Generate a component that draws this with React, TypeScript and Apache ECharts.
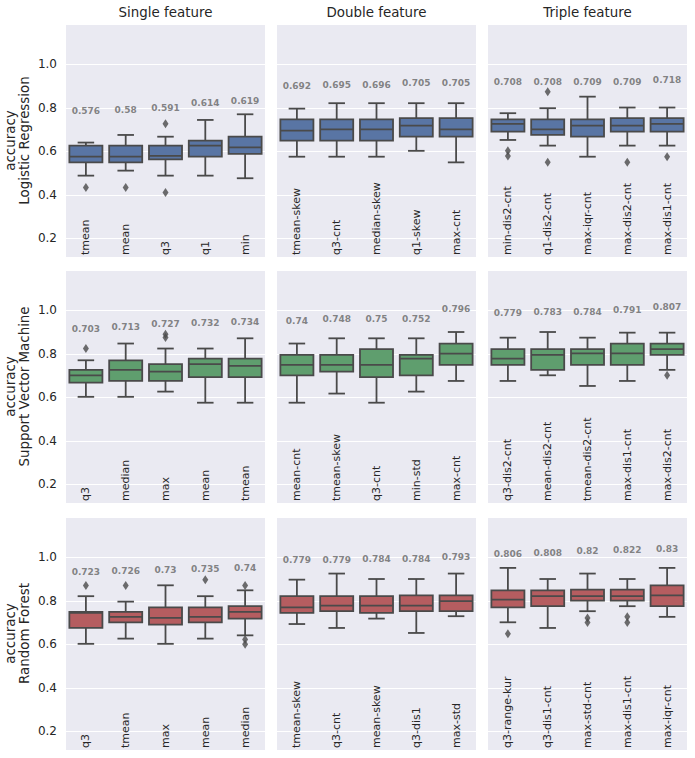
import React, { useEffect, useRef } from 'react';
import * as echarts from 'echarts';

const MODELS = ['Logistic Regression', 'Support Vector Machine', 'Random Forest'];
const GROUPS = ['Single feature', 'Double feature', 'Triple feature'];
const ROW_COLORS = ['#5975a4', '#5f9e6e', '#b55d60'];
const Y_MIN = 0.114;
const Y_MAX = 1.185;

// ---- categories ----
const lrSingleCats = ['tmean', 'mean', 'q3', 'q1', 'min'];
const lrDoubleCats = ['tmean-skew', 'q3-cnt', 'median-skew', 'q1-skew', 'max-cnt'];
const lrTripleCats = ['min-dis2-cnt', 'q1-dis2-cnt', 'max-iqr-cnt', 'max-dis2-cnt', 'max-dis1-cnt'];
const svmSingleCats = ['q3', 'median', 'max', 'mean', 'tmean'];
const svmDoubleCats = ['mean-cnt', 'tmean-skew', 'q3-cnt', 'min-std', 'max-cnt'];
const svmTripleCats = ['q3-dis2-cnt', 'mean-dis2-cnt', 'tmean-dis2-cnt', 'max-dis1-cnt', 'max-dis2-cnt'];
const rfSingleCats = ['q3', 'tmean', 'max', 'mean', 'median'];
const rfDoubleCats = ['tmean-skew', 'q3-cnt', 'mean-skew', 'q3-dis1', 'max-std'];
const rfTripleCats = ['q3-range-kur', 'q3-dis1-cnt', 'max-std-cnt', 'max-dis1-cnt', 'max-iqr-cnt'];

// ---- box stats: [lower whisker, Q1, median, Q3, upper whisker] ----
const lrSingleBox = [
  [0.488, 0.549, 0.575, 0.626, 0.640],
  [0.511, 0.549, 0.575, 0.626, 0.675],
  [0.488, 0.563, 0.579, 0.626, 0.667],
  [0.488, 0.575, 0.626, 0.649, 0.744],
  [0.476, 0.588, 0.618, 0.667, 0.770],
];
const lrDoubleBox = [
  [0.575, 0.649, 0.695, 0.747, 0.796],
  [0.575, 0.649, 0.701, 0.747, 0.821],
  [0.575, 0.649, 0.701, 0.747, 0.821],
  [0.602, 0.667, 0.718, 0.752, 0.821],
  [0.549, 0.667, 0.701, 0.752, 0.821],
];
const lrTripleBox = [
  [0.652, 0.690, 0.726, 0.747, 0.775],
  [0.626, 0.675, 0.701, 0.747, 0.798],
  [0.575, 0.667, 0.718, 0.747, 0.851],
  [0.626, 0.690, 0.718, 0.752, 0.801],
  [0.626, 0.690, 0.726, 0.752, 0.801],
];
const svmSingleBox = [
  [0.602, 0.667, 0.701, 0.726, 0.770],
  [0.602, 0.675, 0.726, 0.770, 0.847],
  [0.626, 0.675, 0.718, 0.752, 0.824],
  [0.575, 0.693, 0.752, 0.778, 0.824],
  [0.575, 0.693, 0.744, 0.778, 0.871],
];
const svmDoubleBox = [
  [0.575, 0.701, 0.749, 0.795, 0.847],
  [0.617, 0.718, 0.749, 0.795, 0.871],
  [0.575, 0.693, 0.749, 0.821, 0.871],
  [0.626, 0.701, 0.778, 0.795, 0.871],
  [0.675, 0.749, 0.801, 0.847, 0.900],
];
const svmTripleBox = [
  [0.675, 0.749, 0.778, 0.821, 0.874],
  [0.701, 0.726, 0.795, 0.821, 0.900],
  [0.652, 0.749, 0.802, 0.821, 0.874],
  [0.675, 0.749, 0.802, 0.847, 0.897],
  [0.726, 0.795, 0.821, 0.847, 0.897],
];
const rfSingleBox = [
  [0.602, 0.675, 0.744, 0.749, 0.821],
  [0.626, 0.701, 0.726, 0.749, 0.796],
  [0.602, 0.690, 0.721, 0.770, 0.871],
  [0.626, 0.701, 0.726, 0.770, 0.821],
  [0.641, 0.718, 0.749, 0.775, 0.848],
];
const rfDoubleBox = [
  [0.693, 0.744, 0.770, 0.821, 0.897],
  [0.675, 0.752, 0.778, 0.821, 0.925],
  [0.718, 0.744, 0.778, 0.821, 0.900],
  [0.652, 0.752, 0.778, 0.825, 0.900],
  [0.729, 0.752, 0.798, 0.825, 0.925],
];
const rfTripleBox = [
  [0.701, 0.770, 0.805, 0.848, 0.951],
  [0.675, 0.775, 0.821, 0.848, 0.900],
  [0.752, 0.801, 0.821, 0.851, 0.925],
  [0.775, 0.801, 0.821, 0.851, 0.900],
  [0.726, 0.775, 0.825, 0.871, 0.951],
];

// ---- outliers: [category index, accuracy] ----
const lrSingleOut = [[0, 0.434], [1, 0.434], [2, 0.726], [2, 0.410]];
const lrDoubleOut: number[][] = [];
const lrTripleOut = [[0, 0.602], [0, 0.578], [1, 0.874], [1, 0.549], [3, 0.549], [4, 0.575]];
const svmSingleOut = [[0, 0.824], [2, 0.890], [2, 0.875]];
const svmDoubleOut: number[][] = [];
const svmTripleOut = [[4, 0.701]];
const rfSingleOut = [[0, 0.870], [1, 0.870], [3, 0.897], [4, 0.870], [4, 0.622], [4, 0.600]];
const rfDoubleOut: number[][] = [];
const rfTripleOut = [[0, 0.648], [2, 0.721], [2, 0.700], [3, 0.726], [3, 0.700]];

// ---- mean accuracy labels ----
const lrSingleMean = [0.576, 0.58, 0.591, 0.614, 0.619];
const lrDoubleMean = [0.692, 0.695, 0.696, 0.705, 0.705];
const lrTripleMean = [0.708, 0.708, 0.709, 0.709, 0.718];
const svmSingleMean = [0.703, 0.713, 0.727, 0.732, 0.734];
const svmDoubleMean = [0.74, 0.748, 0.75, 0.752, 0.796];
const svmTripleMean = [0.779, 0.783, 0.784, 0.791, 0.807];
const rfSingleMean = [0.723, 0.726, 0.73, 0.735, 0.74];
const rfDoubleMean = [0.779, 0.779, 0.784, 0.784, 0.793];
const rfTripleMean = [0.806, 0.808, 0.82, 0.822, 0.83];

const PANELS = [
  { cats: lrSingleCats, box: lrSingleBox, out: lrSingleOut, mean: lrSingleMean },
  { cats: lrDoubleCats, box: lrDoubleBox, out: lrDoubleOut, mean: lrDoubleMean },
  { cats: lrTripleCats, box: lrTripleBox, out: lrTripleOut, mean: lrTripleMean },
  { cats: svmSingleCats, box: svmSingleBox, out: svmSingleOut, mean: svmSingleMean },
  { cats: svmDoubleCats, box: svmDoubleBox, out: svmDoubleOut, mean: svmDoubleMean },
  { cats: svmTripleCats, box: svmTripleBox, out: svmTripleOut, mean: svmTripleMean },
  { cats: rfSingleCats, box: rfSingleBox, out: rfSingleOut, mean: rfSingleMean },
  { cats: rfDoubleCats, box: rfDoubleBox, out: rfDoubleOut, mean: rfDoubleMean },
  { cats: rfTripleCats, box: rfTripleBox, out: rfTripleOut, mean: rfTripleMean },
];

const FONT = 'DejaVu Sans';
const LINE = '#4a4a4a';
const TEXT = '#262626';
const COL_LEFT = [66, 277, 488];
const COL_W = 199;
const ROW_TOP = [24, 270, 517];
const ROW_H = 233;
const MEAN_LABEL_OFFSET = 0.21;

function makeRenderBox(color: string) {
  return (params: any, api: any) => {
    const i = api.value(0);
    const lo = api.coord([i, api.value(1)]);
    const q1 = api.coord([i, api.value(2)]);
    const md = api.coord([i, api.value(3)]);
    const q3 = api.coord([i, api.value(4)]);
    const hi = api.coord([i, api.value(5)]);
    const band = api.size([1, 0])[0];
    const bw = band * 0.83;
    const cw = bw * 0.5;
    const x = lo[0];
    const st = { stroke: LINE, lineWidth: 1.8, fill: null };
    return {
      type: 'group',
      children: [
        { type: 'line', shape: { x1: x, y1: q1[1], x2: x, y2: lo[1] }, style: st },
        { type: 'line', shape: { x1: x, y1: q3[1], x2: x, y2: hi[1] }, style: st },
        { type: 'line', shape: { x1: x - cw / 2, y1: lo[1], x2: x + cw / 2, y2: lo[1] }, style: st },
        { type: 'line', shape: { x1: x - cw / 2, y1: hi[1], x2: x + cw / 2, y2: hi[1] }, style: st },
        {
          type: 'rect',
          shape: { x: x - bw / 2, y: q3[1], width: bw, height: q1[1] - q3[1] },
          style: { fill: color, stroke: LINE, lineWidth: 1.8 },
        },
        { type: 'line', shape: { x1: x - bw / 2, y1: md[1], x2: x + bw / 2, y2: md[1] }, style: st },
      ],
    };
  };
}

function buildOption() {
  const grid: any[] = [];
  const xAxis: any[] = [];
  const yAxis: any[] = [];
  const series: any[] = [];
  PANELS.forEach((p, idx) => {
    const r = Math.floor(idx / 3);
    const c = idx % 3;
    grid.push({
      left: COL_LEFT[c],
      top: ROW_TOP[r],
      width: COL_W,
      height: ROW_H,
      show: true,
      backgroundColor: '#EAEAF2',
      borderWidth: 0,
    });
    xAxis.push({
      type: 'category',
      gridIndex: idx,
      data: p.cats,
      axisLine: { show: false },
      axisTick: { show: false },
      splitLine: { show: false },
      axisLabel: {
        inside: true,
        rotate: 90,
        interval: 0,
        margin: 2,
        fontSize: 11,
        fontFamily: FONT,
        color: TEXT,
      },
      z: 5,
    });
    yAxis.push({
      type: 'value',
      gridIndex: idx,
      min: Y_MIN,
      max: Y_MAX,
      splitNumber: 5,
      axisLine: { show: false },
      axisTick: { show: false },
      splitLine: { show: true, lineStyle: { color: '#ffffff', width: 1.2 } },
      axisLabel: {
        show: c === 0,
        fontSize: 12,
        fontFamily: FONT,
        color: TEXT,
        margin: 9,
        formatter: (v: number) =>
          Math.abs(v * 5 - Math.round(v * 5)) > 1e-6 ? '' : v.toFixed(1),
      },
    });
    series.push({
      type: 'custom',
      xAxisIndex: idx,
      yAxisIndex: idx,
      renderItem: makeRenderBox(ROW_COLORS[r]),
      encode: { x: 0, y: [1, 2, 3, 4, 5] },
      data: p.box.map((b, i) => [i, ...b]),
      z: 3,
    });
    series.push({
      type: 'scatter',
      xAxisIndex: idx,
      yAxisIndex: idx,
      symbol: 'diamond',
      symbolSize: [6, 9],
      itemStyle: { color: LINE },
      data: p.out,
      z: 4,
    });
    series.push({
      type: 'scatter',
      xAxisIndex: idx,
      yAxisIndex: idx,
      symbolSize: 0,
      data: p.mean.map((m, i) => [i, m + MEAN_LABEL_OFFSET, m]),
      label: {
        show: true,
        position: 'inside',
        formatter: (prm: any) => String(prm.value[2]),
        fontSize: 9,
        fontWeight: 'bold',
        fontFamily: FONT,
        color: '#666666',
      },
      z: 4,
    });
  });

  const graphic: any[] = [];
  GROUPS.forEach((g, c) => {
    graphic.push({
      type: 'text',
      x: COL_LEFT[c] + COL_W / 2,
      y: 12,
      style: {
        text: g,
        align: 'center',
        verticalAlign: 'middle',
        fontSize: 13.4,
        fontFamily: FONT,
        fill: TEXT,
      },
    });
  });
  MODELS.forEach((m, r) => {
    graphic.push({
      type: 'text',
      x: 17.5,
      y: ROW_TOP[r] + ROW_H / 2,
      rotation: Math.PI / 2,
      style: {
        text: 'accuracy\n' + m,
        align: 'center',
        verticalAlign: 'middle',
        lineHeight: 14,
        fontSize: 13.4,
        fontFamily: FONT,
        fill: TEXT,
      },
    });
  });

  return {
    animation: false,
    backgroundColor: '#ffffff',
    grid,
    xAxis,
    yAxis,
    series,
    graphic,
  };
}

export default function App() {
  const ref = useRef<HTMLDivElement>(null);
  useEffect(() => {
    document.body.style.margin = '0';
    if (!ref.current) return;
    const chart = echarts.init(ref.current, undefined, { renderer: 'svg' });
    chart.setOption(buildOption() as any);
    return () => chart.dispose();
  }, []);
  return <div ref={ref} style={{ width: 695, height: 758 }} />;
}
